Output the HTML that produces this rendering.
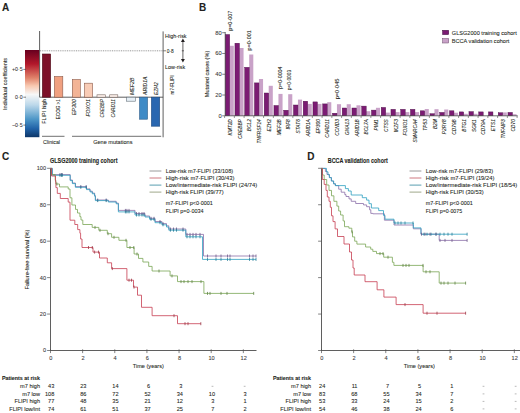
<!DOCTYPE html>
<html><head><meta charset="utf-8"><style>
html,body{margin:0;padding:0;background:#fff;width:520px;height:413px;overflow:hidden}
svg{display:block}
text{font-family:"Liberation Sans", sans-serif}
</style></head><body>
<svg width="520" height="413" viewBox="0 0 520 413">
<rect width="520" height="413" fill="#fff"/>
<text x="2" y="11.2" font-size="10" text-anchor="start" font-weight="bold" fill="#231f20" stroke="#231f20" stroke-width="0.1">A</text>
<defs><linearGradient id="rdbu" x1="0" y1="0" x2="0" y2="1">
<stop offset="0" stop-color="#67001f"/>
<stop offset="0.16" stop-color="#b2182b"/>
<stop offset="0.32" stop-color="#e0826a"/>
<stop offset="0.41" stop-color="#f8c8b0"/>
<stop offset="0.51" stop-color="#f7f7f7"/>
<stop offset="0.63" stop-color="#bcd8ea"/>
<stop offset="0.79" stop-color="#4f98c8"/>
<stop offset="0.9" stop-color="#2163a8"/>
<stop offset="1" stop-color="#0d3668"/>
</linearGradient></defs>
<rect x="25.00" y="50.00" width="14.40" height="87.20" fill="url(#rdbu)"/>
<line x1="23.3" y1="69.4" x2="26" y2="69.4" stroke="#4d4d4d" stroke-width="0.7"/>
<text x="22.6" y="71.30000000000001" font-size="5.2" text-anchor="end" fill="#3a3a3a" stroke="#3a3a3a" stroke-width="0.08">+0·5</text>
<line x1="23.3" y1="97.2" x2="26" y2="97.2" stroke="#4d4d4d" stroke-width="0.7"/>
<text x="22.6" y="99.10000000000001" font-size="5.2" text-anchor="end" fill="#3a3a3a" stroke="#3a3a3a" stroke-width="0.08">0·0</text>
<line x1="23.3" y1="125.1" x2="26" y2="125.1" stroke="#4d4d4d" stroke-width="0.7"/>
<text x="22.6" y="127.0" font-size="5.2" text-anchor="end" fill="#3a3a3a" stroke="#3a3a3a" stroke-width="0.08">−0·5</text>
<text x="6.9" y="84" font-size="5.6" text-anchor="middle" fill="#231f20" stroke="#231f20" stroke-width="0.08" transform="rotate(-90 6.9 84)" textLength="52" lengthAdjust="spacingAndGlyphs">Individual coefficients</text>
<line x1="39.6" y1="31" x2="39.6" y2="97.2" stroke="#4d4d4d" stroke-width="0.9"/>
<line x1="39.6" y1="97.2" x2="163.1" y2="97.2" stroke="#4d4d4d" stroke-width="0.9"/>
<line x1="163.1" y1="31.4" x2="163.1" y2="137.3" stroke="#4d4d4d" stroke-width="0.9"/>
<line x1="40" y1="50.8" x2="163" y2="50.8" stroke="#6d6d6d" stroke-width="0.7" stroke-dasharray="1 0.8"/>
<rect x="42.40" y="54.00" width="8.20" height="43.20" fill="#7d1028" stroke="#4a0814" stroke-width="0.6"/>
<rect x="54.40" y="76.50" width="8.40" height="20.70" fill="#f0a080" stroke="#8a5a4a" stroke-width="0.6"/>
<rect x="72.30" y="79.50" width="8.00" height="17.70" fill="#f3b496" stroke="#8a5a4a" stroke-width="0.6"/>
<rect x="84.50" y="83.20" width="8.10" height="14.00" fill="#f8ccb6" stroke="#8a5a4a" stroke-width="0.6"/>
<rect x="97.00" y="94.80" width="8.30" height="2.40" fill="#fbefe8" stroke="#7a6a64" stroke-width="0.6"/>
<rect x="109.70" y="94.80" width="8.10" height="2.40" fill="#fbefe8" stroke="#7a6a64" stroke-width="0.6"/>
<rect x="126.60" y="97.20" width="8.70" height="4.00" fill="#e6eff6" stroke="#64707a" stroke-width="0.6"/>
<rect x="139.60" y="97.20" width="7.90" height="22.00" fill="#3f8bc6" stroke="#2a5a88" stroke-width="0.6"/>
<rect x="151.40" y="97.20" width="8.30" height="29.00" fill="#2a67b0" stroke="#1c4a80" stroke-width="0.6"/>
<text x="46.3" y="99.2" font-size="5.6" text-anchor="end" fill="#231f20" stroke="#231f20" stroke-width="0.08" transform="rotate(-90 46.3 99.2)" textLength="24.5" lengthAdjust="spacingAndGlyphs">FLIPI high</text>
<text x="60.0" y="99.2" font-size="5.6" text-anchor="end" fill="#231f20" stroke="#231f20" stroke-width="0.08" transform="rotate(-90 60.0 99.2)" textLength="20" lengthAdjust="spacingAndGlyphs">ECOG &gt;1</text>
<text x="76.5" y="99.2" font-size="5.6" text-anchor="end" font-style="italic" fill="#231f20" stroke="#231f20" stroke-width="0.08" transform="rotate(-90 76.5 99.2)" textLength="16" lengthAdjust="spacingAndGlyphs">EP300</text>
<text x="89.7" y="99.2" font-size="5.6" text-anchor="end" font-style="italic" fill="#231f20" stroke="#231f20" stroke-width="0.08" transform="rotate(-90 89.7 99.2)" textLength="17.4" lengthAdjust="spacingAndGlyphs">FOXO1</text>
<text x="104.0" y="99.2" font-size="5.6" text-anchor="end" font-style="italic" fill="#231f20" stroke="#231f20" stroke-width="0.08" transform="rotate(-90 104.0 99.2)" textLength="18.3" lengthAdjust="spacingAndGlyphs">CREBBP</text>
<text x="115.5" y="99.2" font-size="5.6" text-anchor="end" font-style="italic" fill="#231f20" stroke="#231f20" stroke-width="0.08" transform="rotate(-90 115.5 99.2)" textLength="18.4" lengthAdjust="spacingAndGlyphs">CARD11</text>
<text x="134.0" y="95.0" font-size="5.6" text-anchor="start" font-style="italic" fill="#231f20" stroke="#231f20" stroke-width="0.08" transform="rotate(-90 134.0 95.0)" textLength="17.5" lengthAdjust="spacingAndGlyphs">MEF2B</text>
<text x="146.5" y="95.0" font-size="5.6" text-anchor="start" font-style="italic" fill="#231f20" stroke="#231f20" stroke-width="0.08" transform="rotate(-90 146.5 95.0)" textLength="18.5" lengthAdjust="spacingAndGlyphs">ARID1A</text>
<text x="158.1" y="95.0" font-size="5.6" text-anchor="start" font-style="italic" fill="#231f20" stroke="#231f20" stroke-width="0.08" transform="rotate(-90 158.1 95.0)" textLength="12.7" lengthAdjust="spacingAndGlyphs">EZH2</text>
<line x1="42" y1="136.3" x2="64.5" y2="136.3" stroke="#4d4d4d" stroke-width="0.8"/>
<line x1="72" y1="136.3" x2="161.2" y2="136.3" stroke="#4d4d4d" stroke-width="0.8"/>
<text x="43" y="144.2" font-size="5.8" text-anchor="start" fill="#231f20" stroke="#231f20" stroke-width="0.08" textLength="17" lengthAdjust="spacingAndGlyphs">Clinical</text>
<text x="93.2" y="144.2" font-size="5.8" text-anchor="start" fill="#231f20" stroke="#231f20" stroke-width="0.08" textLength="39.3" lengthAdjust="spacingAndGlyphs">Gene mutations</text>
<line x1="163.1" y1="50.8" x2="166" y2="50.8" stroke="#4d4d4d" stroke-width="0.7"/>
<text x="165.1" y="37.9" font-size="5.6" text-anchor="start" fill="#231f20" stroke="#231f20" stroke-width="0.08" textLength="21.5" lengthAdjust="spacingAndGlyphs">High-risk</text>
<text x="166.8" y="52.9" font-size="5.6" text-anchor="start" fill="#231f20" stroke="#231f20" stroke-width="0.08" textLength="7" lengthAdjust="spacingAndGlyphs">0·8</text>
<text x="165.1" y="68.8" font-size="5.6" text-anchor="start" fill="#231f20" stroke="#231f20" stroke-width="0.08" textLength="20" lengthAdjust="spacingAndGlyphs">Low-risk</text>
<text x="173.6" y="75.4" font-size="5.6" text-anchor="end" fill="#231f20" stroke="#231f20" stroke-width="0.08" transform="rotate(-90 173.6 75.4)" textLength="19" lengthAdjust="spacingAndGlyphs">m7-FLIPI</text>
<line x1="182.9" y1="40.5" x2="182.9" y2="60.5" stroke="#231f20" stroke-width="0.7"/>
<path d="M180.9 42 L182.9 38.6 L184.9 42 Z" fill="#231f20"/>
<path d="M180.9 59 L182.9 62.4 L184.9 59 Z" fill="#231f20"/>
<line x1="181.8" y1="50.8" x2="184" y2="50.8" stroke="#231f20" stroke-width="0.6"/>
<text x="199" y="10.6" font-size="10" text-anchor="start" font-weight="bold" fill="#231f20" stroke="#231f20" stroke-width="0.1">B</text>
<line x1="222.2" y1="115.8" x2="225.2" y2="115.8" stroke="#4d4d4d" stroke-width="0.7"/>
<text x="221.8" y="117.7" font-size="5.8" text-anchor="end" fill="#3a3a3a" stroke="#3a3a3a" stroke-width="0.08">0</text>
<line x1="222.2" y1="95.025" x2="225.2" y2="95.025" stroke="#4d4d4d" stroke-width="0.7"/>
<text x="221.8" y="96.92500000000001" font-size="5.8" text-anchor="end" fill="#3a3a3a" stroke="#3a3a3a" stroke-width="0.08">20</text>
<line x1="222.2" y1="74.25" x2="225.2" y2="74.25" stroke="#4d4d4d" stroke-width="0.7"/>
<text x="221.8" y="76.15" font-size="5.8" text-anchor="end" fill="#3a3a3a" stroke="#3a3a3a" stroke-width="0.08">40</text>
<line x1="222.2" y1="53.47500000000001" x2="225.2" y2="53.47500000000001" stroke="#4d4d4d" stroke-width="0.7"/>
<text x="221.8" y="55.37500000000001" font-size="5.8" text-anchor="end" fill="#3a3a3a" stroke="#3a3a3a" stroke-width="0.08">60</text>
<line x1="222.2" y1="32.7" x2="225.2" y2="32.7" stroke="#4d4d4d" stroke-width="0.7"/>
<text x="221.8" y="34.6" font-size="5.8" text-anchor="end" fill="#3a3a3a" stroke="#3a3a3a" stroke-width="0.08">80</text>
<text x="208.8" y="74" font-size="5.6" text-anchor="middle" fill="#231f20" stroke="#231f20" stroke-width="0.08" transform="rotate(-90 208.8 74)" textLength="46.5" lengthAdjust="spacingAndGlyphs">Mutated cases (%)</text>
<rect x="229.70" y="45.80" width="4.10" height="70.00" fill="#c9a2c8"/>
<rect x="225.20" y="34.50" width="4.50" height="81.30" fill="#7b1b73" stroke="#4a0f45" stroke-width="0.4"/>
<rect x="239.45" y="48.00" width="4.10" height="67.80" fill="#c9a2c8"/>
<rect x="234.95" y="43.20" width="4.50" height="72.60" fill="#7b1b73" stroke="#4a0f45" stroke-width="0.4"/>
<rect x="249.20" y="54.50" width="4.10" height="61.30" fill="#c9a2c8"/>
<rect x="244.70" y="67.30" width="4.50" height="48.50" fill="#7b1b73" stroke="#4a0f45" stroke-width="0.4"/>
<rect x="258.95" y="79.00" width="4.10" height="36.80" fill="#c9a2c8"/>
<rect x="254.45" y="82.90" width="4.50" height="32.90" fill="#7b1b73" stroke="#4a0f45" stroke-width="0.4"/>
<rect x="268.70" y="85.80" width="4.10" height="30.00" fill="#c9a2c8"/>
<rect x="264.20" y="93.00" width="4.50" height="22.80" fill="#7b1b73" stroke="#4a0f45" stroke-width="0.4"/>
<rect x="278.45" y="93.90" width="4.10" height="21.90" fill="#c9a2c8"/>
<rect x="273.95" y="105.50" width="4.50" height="10.30" fill="#7b1b73" stroke="#4a0f45" stroke-width="0.4"/>
<rect x="288.20" y="94.20" width="4.10" height="21.60" fill="#c9a2c8"/>
<rect x="283.70" y="110.20" width="4.50" height="5.60" fill="#7b1b73" stroke="#4a0f45" stroke-width="0.4"/>
<rect x="297.95" y="99.60" width="4.10" height="16.20" fill="#c9a2c8"/>
<rect x="293.45" y="105.00" width="4.50" height="10.80" fill="#7b1b73" stroke="#4a0f45" stroke-width="0.4"/>
<rect x="307.70" y="103.90" width="4.10" height="11.90" fill="#c9a2c8"/>
<rect x="303.20" y="101.20" width="4.50" height="14.60" fill="#7b1b73" stroke="#4a0f45" stroke-width="0.4"/>
<rect x="317.45" y="103.90" width="4.10" height="11.90" fill="#c9a2c8"/>
<rect x="312.95" y="101.90" width="4.50" height="13.90" fill="#7b1b73" stroke="#4a0f45" stroke-width="0.4"/>
<rect x="327.20" y="102.20" width="4.10" height="13.60" fill="#c9a2c8"/>
<rect x="322.70" y="103.90" width="4.50" height="11.90" fill="#7b1b73" stroke="#4a0f45" stroke-width="0.4"/>
<rect x="336.95" y="104.20" width="4.10" height="11.60" fill="#c9a2c8"/>
<rect x="332.45" y="113.20" width="4.50" height="2.60" fill="#7b1b73" stroke="#4a0f45" stroke-width="0.4"/>
<rect x="346.70" y="104.20" width="4.10" height="11.60" fill="#c9a2c8"/>
<rect x="342.20" y="108.00" width="4.50" height="7.80" fill="#7b1b73" stroke="#4a0f45" stroke-width="0.4"/>
<rect x="356.45" y="105.30" width="4.10" height="10.50" fill="#c9a2c8"/>
<rect x="351.95" y="108.00" width="4.50" height="7.80" fill="#7b1b73" stroke="#4a0f45" stroke-width="0.4"/>
<rect x="366.20" y="111.20" width="4.10" height="4.60" fill="#c9a2c8"/>
<rect x="361.70" y="106.10" width="4.50" height="9.70" fill="#7b1b73" stroke="#4a0f45" stroke-width="0.4"/>
<rect x="375.95" y="107.80" width="4.10" height="8.00" fill="#c9a2c8"/>
<rect x="371.45" y="110.10" width="4.50" height="5.70" fill="#7b1b73" stroke="#4a0f45" stroke-width="0.4"/>
<rect x="385.70" y="112.60" width="4.10" height="3.20" fill="#c9a2c8"/>
<rect x="381.20" y="107.40" width="4.50" height="8.40" fill="#7b1b73" stroke="#4a0f45" stroke-width="0.4"/>
<rect x="395.45" y="112.10" width="4.10" height="3.70" fill="#c9a2c8"/>
<rect x="390.95" y="109.30" width="4.50" height="6.50" fill="#7b1b73" stroke="#4a0f45" stroke-width="0.4"/>
<rect x="405.20" y="112.10" width="4.10" height="3.70" fill="#c9a2c8"/>
<rect x="400.70" y="109.30" width="4.50" height="6.50" fill="#7b1b73" stroke="#4a0f45" stroke-width="0.4"/>
<rect x="414.95" y="112.10" width="4.10" height="3.70" fill="#c9a2c8"/>
<rect x="410.45" y="109.30" width="4.50" height="6.50" fill="#7b1b73" stroke="#4a0f45" stroke-width="0.4"/>
<rect x="424.70" y="109.00" width="4.10" height="6.80" fill="#c9a2c8"/>
<rect x="420.20" y="110.80" width="4.50" height="5.00" fill="#7b1b73" stroke="#4a0f45" stroke-width="0.4"/>
<rect x="434.45" y="109.20" width="4.10" height="6.60" fill="#c9a2c8"/>
<rect x="429.95" y="113.70" width="4.50" height="2.10" fill="#7b1b73" stroke="#4a0f45" stroke-width="0.4"/>
<rect x="444.20" y="109.50" width="4.10" height="6.30" fill="#c9a2c8"/>
<rect x="439.70" y="112.40" width="4.50" height="3.40" fill="#7b1b73" stroke="#4a0f45" stroke-width="0.4"/>
<rect x="453.95" y="112.70" width="4.10" height="3.10" fill="#c9a2c8"/>
<rect x="449.45" y="110.80" width="4.50" height="5.00" fill="#7b1b73" stroke="#4a0f45" stroke-width="0.4"/>
<rect x="463.70" y="113.80" width="4.10" height="2.00" fill="#c9a2c8"/>
<rect x="459.20" y="111.90" width="4.50" height="3.90" fill="#7b1b73" stroke="#4a0f45" stroke-width="0.4"/>
<rect x="473.45" y="113.80" width="4.10" height="2.00" fill="#c9a2c8"/>
<rect x="468.95" y="111.60" width="4.50" height="4.20" fill="#7b1b73" stroke="#4a0f45" stroke-width="0.4"/>
<rect x="483.20" y="115.80" width="4.10" height="0.00" fill="#c9a2c8"/>
<rect x="478.70" y="111.90" width="4.50" height="3.90" fill="#7b1b73" stroke="#4a0f45" stroke-width="0.4"/>
<rect x="492.95" y="115.80" width="4.10" height="0.00" fill="#c9a2c8"/>
<rect x="488.45" y="111.90" width="4.50" height="3.90" fill="#7b1b73" stroke="#4a0f45" stroke-width="0.4"/>
<rect x="502.70" y="112.40" width="4.10" height="3.40" fill="#c9a2c8"/>
<rect x="498.20" y="112.70" width="4.50" height="3.10" fill="#7b1b73" stroke="#4a0f45" stroke-width="0.4"/>
<rect x="512.45" y="114.20" width="4.10" height="1.60" fill="#c9a2c8"/>
<rect x="507.95" y="112.40" width="4.50" height="3.40" fill="#7b1b73" stroke="#4a0f45" stroke-width="0.4"/>
<line x1="225.2" y1="32" x2="225.2" y2="115.8" stroke="#4d4d4d" stroke-width="0.8"/>
<line x1="225.2" y1="115.8" x2="517.7" y2="115.8" stroke="#4d4d4d" stroke-width="0.8"/>
<line x1="224.6" y1="115.8" x2="224.6" y2="118.0" stroke="#4d4d4d" stroke-width="0.6"/>
<line x1="234.35" y1="115.8" x2="234.35" y2="118.0" stroke="#4d4d4d" stroke-width="0.6"/>
<line x1="244.1" y1="115.8" x2="244.1" y2="118.0" stroke="#4d4d4d" stroke-width="0.6"/>
<line x1="253.85" y1="115.8" x2="253.85" y2="118.0" stroke="#4d4d4d" stroke-width="0.6"/>
<line x1="263.6" y1="115.8" x2="263.6" y2="118.0" stroke="#4d4d4d" stroke-width="0.6"/>
<line x1="273.35" y1="115.8" x2="273.35" y2="118.0" stroke="#4d4d4d" stroke-width="0.6"/>
<line x1="283.1" y1="115.8" x2="283.1" y2="118.0" stroke="#4d4d4d" stroke-width="0.6"/>
<line x1="292.85" y1="115.8" x2="292.85" y2="118.0" stroke="#4d4d4d" stroke-width="0.6"/>
<line x1="302.6" y1="115.8" x2="302.6" y2="118.0" stroke="#4d4d4d" stroke-width="0.6"/>
<line x1="312.35" y1="115.8" x2="312.35" y2="118.0" stroke="#4d4d4d" stroke-width="0.6"/>
<line x1="322.1" y1="115.8" x2="322.1" y2="118.0" stroke="#4d4d4d" stroke-width="0.6"/>
<line x1="331.85" y1="115.8" x2="331.85" y2="118.0" stroke="#4d4d4d" stroke-width="0.6"/>
<line x1="341.6" y1="115.8" x2="341.6" y2="118.0" stroke="#4d4d4d" stroke-width="0.6"/>
<line x1="351.35" y1="115.8" x2="351.35" y2="118.0" stroke="#4d4d4d" stroke-width="0.6"/>
<line x1="361.1" y1="115.8" x2="361.1" y2="118.0" stroke="#4d4d4d" stroke-width="0.6"/>
<line x1="370.85" y1="115.8" x2="370.85" y2="118.0" stroke="#4d4d4d" stroke-width="0.6"/>
<line x1="380.6" y1="115.8" x2="380.6" y2="118.0" stroke="#4d4d4d" stroke-width="0.6"/>
<line x1="390.35" y1="115.8" x2="390.35" y2="118.0" stroke="#4d4d4d" stroke-width="0.6"/>
<line x1="400.1" y1="115.8" x2="400.1" y2="118.0" stroke="#4d4d4d" stroke-width="0.6"/>
<line x1="409.85" y1="115.8" x2="409.85" y2="118.0" stroke="#4d4d4d" stroke-width="0.6"/>
<line x1="419.6" y1="115.8" x2="419.6" y2="118.0" stroke="#4d4d4d" stroke-width="0.6"/>
<line x1="429.35" y1="115.8" x2="429.35" y2="118.0" stroke="#4d4d4d" stroke-width="0.6"/>
<line x1="439.1" y1="115.8" x2="439.1" y2="118.0" stroke="#4d4d4d" stroke-width="0.6"/>
<line x1="448.85" y1="115.8" x2="448.85" y2="118.0" stroke="#4d4d4d" stroke-width="0.6"/>
<line x1="458.6" y1="115.8" x2="458.6" y2="118.0" stroke="#4d4d4d" stroke-width="0.6"/>
<line x1="468.35" y1="115.8" x2="468.35" y2="118.0" stroke="#4d4d4d" stroke-width="0.6"/>
<line x1="478.1" y1="115.8" x2="478.1" y2="118.0" stroke="#4d4d4d" stroke-width="0.6"/>
<line x1="487.85" y1="115.8" x2="487.85" y2="118.0" stroke="#4d4d4d" stroke-width="0.6"/>
<line x1="497.6" y1="115.8" x2="497.6" y2="118.0" stroke="#4d4d4d" stroke-width="0.6"/>
<line x1="507.35" y1="115.8" x2="507.35" y2="118.0" stroke="#4d4d4d" stroke-width="0.6"/>
<line x1="517.1" y1="115.8" x2="517.1" y2="118.0" stroke="#4d4d4d" stroke-width="0.6"/>
<text x="232.0" y="119.2" font-size="4.8" text-anchor="end" font-style="italic" fill="#231f20" stroke="#231f20" stroke-width="0.08" transform="rotate(-90 232.0 119.2)">KMT2D</text>
<text x="241.75" y="119.2" font-size="4.8" text-anchor="end" font-style="italic" fill="#231f20" stroke="#231f20" stroke-width="0.08" transform="rotate(-90 241.75 119.2)">CREBBP</text>
<text x="251.5" y="119.2" font-size="4.8" text-anchor="end" font-style="italic" fill="#231f20" stroke="#231f20" stroke-width="0.08" transform="rotate(-90 251.5 119.2)">BCL2</text>
<text x="261.25" y="119.2" font-size="4.8" text-anchor="end" font-style="italic" fill="#231f20" stroke="#231f20" stroke-width="0.08" transform="rotate(-90 261.25 119.2)">TNFRSF14</text>
<text x="271.0" y="119.2" font-size="4.8" text-anchor="end" font-style="italic" fill="#231f20" stroke="#231f20" stroke-width="0.08" transform="rotate(-90 271.0 119.2)">EZH2</text>
<text x="280.75" y="119.2" font-size="4.8" text-anchor="end" font-style="italic" fill="#231f20" stroke="#231f20" stroke-width="0.08" transform="rotate(-90 280.75 119.2)">MEF2B</text>
<text x="290.5" y="119.2" font-size="4.8" text-anchor="end" font-style="italic" fill="#231f20" stroke="#231f20" stroke-width="0.08" transform="rotate(-90 290.5 119.2)">IRF8</text>
<text x="300.25" y="119.2" font-size="4.8" text-anchor="end" font-style="italic" fill="#231f20" stroke="#231f20" stroke-width="0.08" transform="rotate(-90 300.25 119.2)">STAT6</text>
<text x="310.0" y="119.2" font-size="4.8" text-anchor="end" font-style="italic" fill="#231f20" stroke="#231f20" stroke-width="0.08" transform="rotate(-90 310.0 119.2)">ARID1A</text>
<text x="319.75" y="119.2" font-size="4.8" text-anchor="end" font-style="italic" fill="#231f20" stroke="#231f20" stroke-width="0.08" transform="rotate(-90 319.75 119.2)">EP300</text>
<text x="329.5" y="119.2" font-size="4.8" text-anchor="end" font-style="italic" fill="#231f20" stroke="#231f20" stroke-width="0.08" transform="rotate(-90 329.5 119.2)">CARD11</text>
<text x="339.25" y="119.2" font-size="4.8" text-anchor="end" font-style="italic" fill="#231f20" stroke="#231f20" stroke-width="0.08" transform="rotate(-90 339.25 119.2)">CCND3</text>
<text x="349.0" y="119.2" font-size="4.8" text-anchor="end" font-style="italic" fill="#231f20" stroke="#231f20" stroke-width="0.08" transform="rotate(-90 349.0 119.2)">GNA13</text>
<text x="358.75" y="119.2" font-size="4.8" text-anchor="end" font-style="italic" fill="#231f20" stroke="#231f20" stroke-width="0.08" transform="rotate(-90 358.75 119.2)">ARID1B</text>
<text x="368.5" y="119.2" font-size="4.8" text-anchor="end" font-style="italic" fill="#231f20" stroke="#231f20" stroke-width="0.08" transform="rotate(-90 368.5 119.2)">BCL7A</text>
<text x="378.25" y="119.2" font-size="4.8" text-anchor="end" font-style="italic" fill="#231f20" stroke="#231f20" stroke-width="0.08" transform="rotate(-90 378.25 119.2)">PIM1</text>
<text x="388.0" y="119.2" font-size="4.8" text-anchor="end" font-style="italic" fill="#231f20" stroke="#231f20" stroke-width="0.08" transform="rotate(-90 388.0 119.2)">CTSS</text>
<text x="397.75" y="119.2" font-size="4.8" text-anchor="end" font-style="italic" fill="#231f20" stroke="#231f20" stroke-width="0.08" transform="rotate(-90 397.75 119.2)">IKZF3</text>
<text x="407.5" y="119.2" font-size="4.8" text-anchor="end" font-style="italic" fill="#231f20" stroke="#231f20" stroke-width="0.08" transform="rotate(-90 407.5 119.2)">FOXO1</text>
<text x="417.25" y="119.2" font-size="4.8" text-anchor="end" font-style="italic" fill="#231f20" stroke="#231f20" stroke-width="0.08" transform="rotate(-90 417.25 119.2)">SMARCA4</text>
<text x="427.0" y="119.2" font-size="4.8" text-anchor="end" font-style="italic" fill="#231f20" stroke="#231f20" stroke-width="0.08" transform="rotate(-90 427.0 119.2)">TP53</text>
<text x="436.75" y="119.2" font-size="4.8" text-anchor="end" font-style="italic" fill="#231f20" stroke="#231f20" stroke-width="0.08" transform="rotate(-90 436.75 119.2)">B2M</text>
<text x="446.5" y="119.2" font-size="4.8" text-anchor="end" font-style="italic" fill="#231f20" stroke="#231f20" stroke-width="0.08" transform="rotate(-90 446.5 119.2)">P2RY8</text>
<text x="456.25" y="119.2" font-size="4.8" text-anchor="end" font-style="italic" fill="#231f20" stroke="#231f20" stroke-width="0.08" transform="rotate(-90 456.25 119.2)">CD79B</text>
<text x="466.0" y="119.2" font-size="4.8" text-anchor="end" font-style="italic" fill="#231f20" stroke="#231f20" stroke-width="0.08" transform="rotate(-90 466.0 119.2)">BTG1</text>
<text x="475.75" y="119.2" font-size="4.8" text-anchor="end" font-style="italic" fill="#231f20" stroke="#231f20" stroke-width="0.08" transform="rotate(-90 475.75 119.2)">SGK1</text>
<text x="485.5" y="119.2" font-size="4.8" text-anchor="end" font-style="italic" fill="#231f20" stroke="#231f20" stroke-width="0.08" transform="rotate(-90 485.5 119.2)">CD79A</text>
<text x="495.25" y="119.2" font-size="4.8" text-anchor="end" font-style="italic" fill="#231f20" stroke="#231f20" stroke-width="0.08" transform="rotate(-90 495.25 119.2)">ETS1</text>
<text x="505.0" y="119.2" font-size="4.8" text-anchor="end" font-style="italic" fill="#231f20" stroke="#231f20" stroke-width="0.08" transform="rotate(-90 505.0 119.2)">TNFAIP3</text>
<text x="514.75" y="119.2" font-size="4.8" text-anchor="end" font-style="italic" fill="#231f20" stroke="#231f20" stroke-width="0.08" transform="rotate(-90 514.75 119.2)">CD70</text>
<text x="231.7" y="30.8" font-size="5.4" text-anchor="start" fill="#231f20" stroke="#231f20" stroke-width="0.08" transform="rotate(-90 231.7 30.8)" textLength="20" lengthAdjust="spacingAndGlyphs">p=0·007</text>
<text x="251.2" y="50.4" font-size="5.4" text-anchor="start" fill="#231f20" stroke="#231f20" stroke-width="0.08" transform="rotate(-90 251.2 50.4)" textLength="20.2" lengthAdjust="spacingAndGlyphs">p=0·001</text>
<text x="281.65" y="89" font-size="5.4" text-anchor="start" fill="#231f20" stroke="#231f20" stroke-width="0.08" transform="rotate(-90 281.65 89)" textLength="22.5" lengthAdjust="spacingAndGlyphs">p=0·0004</text>
<text x="291.2" y="90.3" font-size="5.4" text-anchor="start" fill="#231f20" stroke="#231f20" stroke-width="0.08" transform="rotate(-90 291.2 90.3)" textLength="20.4" lengthAdjust="spacingAndGlyphs">p=0·0003</text>
<text x="339.25" y="99.3" font-size="5.4" text-anchor="start" fill="#231f20" stroke="#231f20" stroke-width="0.08" transform="rotate(-90 339.25 99.3)" textLength="20.8" lengthAdjust="spacingAndGlyphs">p=0·045</text>
<rect x="442.60" y="30.30" width="6.10" height="4.30" fill="#7b1b73" stroke="#3a0a3a" stroke-width="0.5"/>
<rect x="442.60" y="38.50" width="6.10" height="4.50" fill="#c9a2c8" stroke="#6a4a6a" stroke-width="0.5"/>
<text x="451.8" y="34.7" font-size="6" text-anchor="start" fill="#231f20" stroke="#231f20" stroke-width="0.08" textLength="65" lengthAdjust="spacingAndGlyphs">GLSG2000 training cohort</text>
<text x="451.8" y="43.0" font-size="6" text-anchor="start" fill="#231f20" stroke="#231f20" stroke-width="0.08" textLength="57.6" lengthAdjust="spacingAndGlyphs">BCCA validation cohort</text>
<text x="2" y="160.2" font-size="10" text-anchor="start" font-weight="bold" fill="#231f20" stroke="#231f20" stroke-width="0.1">C</text>
<text x="50" y="162.9" font-size="6.3" text-anchor="start" font-weight="bold" fill="#231f20" stroke="#231f20" stroke-width="0.1" textLength="67.5" lengthAdjust="spacingAndGlyphs">GLSG2000 training cohort</text>
<line x1="47.1" y1="350.5" x2="50.5" y2="350.5" stroke="#4d4d4d" stroke-width="0.7"/>
<text x="46.1" y="352.4" font-size="5.6" text-anchor="end" fill="#3a3a3a" stroke="#3a3a3a" stroke-width="0.08">0</text>
<line x1="47.1" y1="314.06" x2="50.5" y2="314.06" stroke="#4d4d4d" stroke-width="0.7"/>
<text x="46.1" y="315.96" font-size="5.6" text-anchor="end" fill="#3a3a3a" stroke="#3a3a3a" stroke-width="0.08">20</text>
<line x1="47.1" y1="277.62" x2="50.5" y2="277.62" stroke="#4d4d4d" stroke-width="0.7"/>
<text x="46.1" y="279.52" font-size="5.6" text-anchor="end" fill="#3a3a3a" stroke="#3a3a3a" stroke-width="0.08">40</text>
<line x1="47.1" y1="241.18" x2="50.5" y2="241.18" stroke="#4d4d4d" stroke-width="0.7"/>
<text x="46.1" y="243.08" font-size="5.6" text-anchor="end" fill="#3a3a3a" stroke="#3a3a3a" stroke-width="0.08">60</text>
<line x1="47.1" y1="204.74" x2="50.5" y2="204.74" stroke="#4d4d4d" stroke-width="0.7"/>
<text x="46.1" y="206.64000000000001" font-size="5.6" text-anchor="end" fill="#3a3a3a" stroke="#3a3a3a" stroke-width="0.08">80</text>
<line x1="47.1" y1="168.3" x2="50.5" y2="168.3" stroke="#4d4d4d" stroke-width="0.7"/>
<text x="46.1" y="170.20000000000002" font-size="5.6" text-anchor="end" fill="#3a3a3a" stroke="#3a3a3a" stroke-width="0.08">100</text>
<line x1="50.5" y1="168" x2="50.5" y2="350.9" stroke="#4d4d4d" stroke-width="0.9"/>
<line x1="50.5" y1="350.5" x2="256.5" y2="350.5" stroke="#4d4d4d" stroke-width="0.9"/>
<line x1="50.5" y1="349.3" x2="50.5" y2="353.1" stroke="#4d4d4d" stroke-width="0.7"/>
<text x="50.9" y="359.8" font-size="5.6" text-anchor="middle" fill="#3a3a3a" stroke="#3a3a3a" stroke-width="0.08">0</text>
<line x1="82.64" y1="349.3" x2="82.64" y2="353.1" stroke="#4d4d4d" stroke-width="0.7"/>
<text x="83.04" y="359.8" font-size="5.6" text-anchor="middle" fill="#3a3a3a" stroke="#3a3a3a" stroke-width="0.08">2</text>
<line x1="114.78" y1="349.3" x2="114.78" y2="353.1" stroke="#4d4d4d" stroke-width="0.7"/>
<text x="115.18" y="359.8" font-size="5.6" text-anchor="middle" fill="#3a3a3a" stroke="#3a3a3a" stroke-width="0.08">4</text>
<line x1="146.92000000000002" y1="349.3" x2="146.92000000000002" y2="353.1" stroke="#4d4d4d" stroke-width="0.7"/>
<text x="147.32000000000002" y="359.8" font-size="5.6" text-anchor="middle" fill="#3a3a3a" stroke="#3a3a3a" stroke-width="0.08">6</text>
<line x1="179.06" y1="349.3" x2="179.06" y2="353.1" stroke="#4d4d4d" stroke-width="0.7"/>
<text x="179.46" y="359.8" font-size="5.6" text-anchor="middle" fill="#3a3a3a" stroke="#3a3a3a" stroke-width="0.08">8</text>
<line x1="211.2" y1="349.3" x2="211.2" y2="353.1" stroke="#4d4d4d" stroke-width="0.7"/>
<text x="211.6" y="359.8" font-size="5.6" text-anchor="middle" fill="#3a3a3a" stroke="#3a3a3a" stroke-width="0.08">10</text>
<line x1="243.34" y1="349.3" x2="243.34" y2="353.1" stroke="#4d4d4d" stroke-width="0.7"/>
<text x="243.74" y="359.8" font-size="5.6" text-anchor="middle" fill="#3a3a3a" stroke="#3a3a3a" stroke-width="0.08">12</text>
<text x="148.3" y="368.4" font-size="5.6" text-anchor="middle" fill="#231f20" stroke="#231f20" stroke-width="0.08" textLength="31.2" lengthAdjust="spacingAndGlyphs">Time (years)</text>
<text x="28.5" y="259.5" font-size="5.6" text-anchor="middle" fill="#231f20" stroke="#231f20" stroke-width="0.08" transform="rotate(-90 28.5 259.5)" textLength="60" lengthAdjust="spacingAndGlyphs">Failure-free survival (%)</text>
<line x1="149.5" y1="171.0" x2="161.4" y2="171.0" stroke="#9a9a9a" stroke-width="1.0"/>
<text x="165.8" y="173.0" font-size="5.6" text-anchor="start" fill="#231f20" stroke="#231f20" stroke-width="0.08" textLength="67.3" lengthAdjust="spacingAndGlyphs">Low-risk m7-FLIPI (33/108)</text>
<line x1="149.5" y1="178.0" x2="161.4" y2="178.0" stroke="#cf7880" stroke-width="1.0"/>
<text x="165.8" y="180.0" font-size="5.6" text-anchor="start" fill="#231f20" stroke="#231f20" stroke-width="0.08" textLength="68.6" lengthAdjust="spacingAndGlyphs">High-risk m7-FLIPI (30/43)</text>
<line x1="149.5" y1="185.1" x2="161.4" y2="185.1" stroke="#5a9eb0" stroke-width="1.0"/>
<text x="165.8" y="187.1" font-size="5.6" text-anchor="start" fill="#231f20" stroke="#231f20" stroke-width="0.08" textLength="91.5" lengthAdjust="spacingAndGlyphs">Low/intermediate-risk FLIPI (24/74)</text>
<line x1="149.5" y1="192.1" x2="161.4" y2="192.1" stroke="#9fa88a" stroke-width="1.0"/>
<text x="165.8" y="194.1" font-size="5.6" text-anchor="start" fill="#231f20" stroke="#231f20" stroke-width="0.08" textLength="57.9" lengthAdjust="spacingAndGlyphs">High-risk FLIPI (39/77)</text>
<text x="165.8" y="205.0" font-size="5.6" text-anchor="start" fill="#231f20" stroke="#231f20" stroke-width="0.08" textLength="47.1" lengthAdjust="spacingAndGlyphs">m7-FLIPI p&lt;0·0001</text>
<text x="165.8" y="212.6" font-size="5.6" text-anchor="start" fill="#231f20" stroke="#231f20" stroke-width="0.08" textLength="37.7" lengthAdjust="spacingAndGlyphs">FLIPI p=0·0034</text>
<text x="2.0" y="379.6" font-size="5.6" text-anchor="start" font-weight="bold" fill="#231f20" stroke="#231f20" stroke-width="0.1" textLength="38" lengthAdjust="spacingAndGlyphs">Patients at risk</text>
<text x="40.0" y="388.0" font-size="5.6" text-anchor="end" fill="#231f20" stroke="#231f20" stroke-width="0.08">m7 high</text>
<text x="54.3" y="388.0" font-size="5.6" text-anchor="end" fill="#231f20" stroke="#231f20" stroke-width="0.08">43</text>
<text x="86.44" y="388.0" font-size="5.6" text-anchor="end" fill="#231f20" stroke="#231f20" stroke-width="0.08">23</text>
<text x="118.58" y="388.0" font-size="5.6" text-anchor="end" fill="#231f20" stroke="#231f20" stroke-width="0.08">14</text>
<text x="148.62" y="388.0" font-size="5.6" text-anchor="middle" fill="#231f20" stroke="#231f20" stroke-width="0.08">6</text>
<text x="180.76" y="388.0" font-size="5.6" text-anchor="middle" fill="#231f20" stroke="#231f20" stroke-width="0.08">3</text>
<line x1="211.6" y1="386.3" x2="213.39999999999998" y2="386.3" stroke="#8a8a8a" stroke-width="0.6"/>
<line x1="243.74" y1="386.3" x2="245.54" y2="386.3" stroke="#8a8a8a" stroke-width="0.6"/>
<text x="40.0" y="395.6" font-size="5.6" text-anchor="end" fill="#231f20" stroke="#231f20" stroke-width="0.08">m7 low</text>
<text x="54.3" y="395.6" font-size="5.6" text-anchor="end" fill="#231f20" stroke="#231f20" stroke-width="0.08">108</text>
<text x="86.44" y="395.6" font-size="5.6" text-anchor="end" fill="#231f20" stroke="#231f20" stroke-width="0.08">86</text>
<text x="118.58" y="395.6" font-size="5.6" text-anchor="end" fill="#231f20" stroke="#231f20" stroke-width="0.08">72</text>
<text x="150.72000000000003" y="395.6" font-size="5.6" text-anchor="end" fill="#231f20" stroke="#231f20" stroke-width="0.08">52</text>
<text x="182.86" y="395.6" font-size="5.6" text-anchor="end" fill="#231f20" stroke="#231f20" stroke-width="0.08">34</text>
<text x="215.0" y="395.6" font-size="5.6" text-anchor="end" fill="#231f20" stroke="#231f20" stroke-width="0.08">10</text>
<text x="245.04" y="395.6" font-size="5.6" text-anchor="middle" fill="#231f20" stroke="#231f20" stroke-width="0.08">3</text>
<text x="40.0" y="403.1" font-size="5.6" text-anchor="end" fill="#231f20" stroke="#231f20" stroke-width="0.08">FLIPI high</text>
<text x="54.3" y="403.1" font-size="5.6" text-anchor="end" fill="#231f20" stroke="#231f20" stroke-width="0.08">77</text>
<text x="86.44" y="403.1" font-size="5.6" text-anchor="end" fill="#231f20" stroke="#231f20" stroke-width="0.08">48</text>
<text x="118.58" y="403.1" font-size="5.6" text-anchor="end" fill="#231f20" stroke="#231f20" stroke-width="0.08">35</text>
<text x="150.72000000000003" y="403.1" font-size="5.6" text-anchor="end" fill="#231f20" stroke="#231f20" stroke-width="0.08">21</text>
<text x="182.86" y="403.1" font-size="5.6" text-anchor="end" fill="#231f20" stroke="#231f20" stroke-width="0.08">12</text>
<text x="212.89999999999998" y="403.1" font-size="5.6" text-anchor="middle" fill="#231f20" stroke="#231f20" stroke-width="0.08">3</text>
<text x="245.04" y="403.1" font-size="5.6" text-anchor="middle" fill="#231f20" stroke="#231f20" stroke-width="0.08">1</text>
<text x="40.0" y="410.6" font-size="5.6" text-anchor="end" fill="#231f20" stroke="#231f20" stroke-width="0.08">FLIPI low/int</text>
<text x="54.3" y="410.6" font-size="5.6" text-anchor="end" fill="#231f20" stroke="#231f20" stroke-width="0.08">74</text>
<text x="86.44" y="410.6" font-size="5.6" text-anchor="end" fill="#231f20" stroke="#231f20" stroke-width="0.08">61</text>
<text x="118.58" y="410.6" font-size="5.6" text-anchor="end" fill="#231f20" stroke="#231f20" stroke-width="0.08">51</text>
<text x="150.72000000000003" y="410.6" font-size="5.6" text-anchor="end" fill="#231f20" stroke="#231f20" stroke-width="0.08">37</text>
<text x="182.86" y="410.6" font-size="5.6" text-anchor="end" fill="#231f20" stroke="#231f20" stroke-width="0.08">25</text>
<text x="212.89999999999998" y="410.6" font-size="5.6" text-anchor="middle" fill="#231f20" stroke="#231f20" stroke-width="0.08">7</text>
<text x="245.04" y="410.6" font-size="5.6" text-anchor="middle" fill="#231f20" stroke="#231f20" stroke-width="0.08">2</text>
<path d="M50.5 168.4 H52.3 V174.6 H70.2 V180 H72.4 V183 H75.4 V186.6 H86.5 V188.9 H90 V191.2 H92.3 V193.1 H94.6 V195.6 H95.4 V200 H108.3 V201.3 H116.2 V203.1 H118.4 V210.4 H135 V213.5 H145 V216 H149.6 V218.3 H155 V221.5 H161.9 V223.6 H166.5 V225.8 H168.8 V229 H185.8 V234.4 H203.5 V256 H256" fill="none" stroke="#8a6ea8" stroke-width="0.8"/>
<path d="M50.5 168.4 H52.3 V175.3 H70.2 V180.6 H72.4 V183.6 H75.4 V187.3 H86.5 V189.6 H90 V191.9 H92.3 V193.8 H94.6 V196.2 H95.4 V200.6 H108.3 V202 H116.2 V203.8 H118.4 V211.9 H135 V215 H145 V217 H149.6 V219.3 H155 V222.7 H161.9 V224.8 H166.5 V227 H168.8 V230.2 H185.8 V236.8 H202.5 V259.4 H256" fill="none" stroke="#2d9fc0" stroke-width="0.8"/>
<path d="M50.5 168.4 H51.5 V174.5 H55.2 V180.3 H55.9 V184 H59.5 V186.9 H68.2 V189 H70 V197.8 H71.9 V205 H75.5 V209.4 H77.5 V213 H79.9 V216.7 H81 V220 H82.8 V224.5 H92.2 V227.4 H98.8 V230.3 H107.3 V233.7 H111.6 V237.3 H118.9 V240.3 H126.9 V247.5 H134.1 V254 H138.5 V258.4 H142.9 V262 H148.7 V266.4 H152.1 V271 H170.1 V275.9 H177.5 V281.6 H203.9 V293.4 H253.7" fill="none" stroke="#7aa655" stroke-width="0.8"/>
<path d="M50.5 168.4 H51.5 V176 H55.5 V181.8 H55.9 V187.6 H57.3 V193.4 H60.3 V198.5 H68.2 V202.1 H70 V220.2 H74.8 V224.5 H77.7 V229.6 H79.9 V233.2 H80.6 V239 H82 V247.5 H93 V252.1 H99.5 V258 H107.3 V262.8 H111.6 V268.6 H126.9 V280.2 H133.5 V287.1 H137.5 V295.2 H141.5 V307.3 H152.1 V315.7 H177.5 V323.7 H200.8" fill="none" stroke="#c63e50" stroke-width="0.8"/>
<line x1="60" y1="173.1" x2="60" y2="176.1" stroke="#6e5a8a" stroke-width="0.8"/>
<line x1="61.5" y1="173.1" x2="61.5" y2="176.1" stroke="#6e5a8a" stroke-width="0.8"/>
<line x1="62.3" y1="173.1" x2="62.3" y2="176.1" stroke="#6e5a8a" stroke-width="0.8"/>
<line x1="80.8" y1="185.1" x2="80.8" y2="188.1" stroke="#6e5a8a" stroke-width="0.8"/>
<line x1="86.2" y1="185.1" x2="86.2" y2="188.1" stroke="#6e5a8a" stroke-width="0.8"/>
<line x1="97.7" y1="198.5" x2="97.7" y2="201.5" stroke="#6e5a8a" stroke-width="0.8"/>
<line x1="106.2" y1="198.5" x2="106.2" y2="201.5" stroke="#6e5a8a" stroke-width="0.8"/>
<line x1="125.4" y1="208.9" x2="125.4" y2="211.9" stroke="#6e5a8a" stroke-width="0.8"/>
<line x1="126.9" y1="208.9" x2="126.9" y2="211.9" stroke="#6e5a8a" stroke-width="0.8"/>
<line x1="129" y1="208.9" x2="129" y2="211.9" stroke="#6e5a8a" stroke-width="0.8"/>
<line x1="136.5" y1="212.0" x2="136.5" y2="215.0" stroke="#6e5a8a" stroke-width="0.8"/>
<line x1="139" y1="212.0" x2="139" y2="215.0" stroke="#6e5a8a" stroke-width="0.8"/>
<line x1="142" y1="212.0" x2="142" y2="215.0" stroke="#6e5a8a" stroke-width="0.8"/>
<line x1="144" y1="212.0" x2="144" y2="215.0" stroke="#6e5a8a" stroke-width="0.8"/>
<line x1="151" y1="216.8" x2="151" y2="219.8" stroke="#6e5a8a" stroke-width="0.8"/>
<line x1="154" y1="216.8" x2="154" y2="219.8" stroke="#6e5a8a" stroke-width="0.8"/>
<line x1="160" y1="220.0" x2="160" y2="223.0" stroke="#6e5a8a" stroke-width="0.8"/>
<line x1="163" y1="222.1" x2="163" y2="225.1" stroke="#6e5a8a" stroke-width="0.8"/>
<line x1="170.4" y1="227.5" x2="170.4" y2="230.5" stroke="#6e5a8a" stroke-width="0.8"/>
<line x1="173.5" y1="227.5" x2="173.5" y2="230.5" stroke="#6e5a8a" stroke-width="0.8"/>
<line x1="176.5" y1="227.5" x2="176.5" y2="230.5" stroke="#6e5a8a" stroke-width="0.8"/>
<line x1="183" y1="227.5" x2="183" y2="230.5" stroke="#6e5a8a" stroke-width="0.8"/>
<line x1="187" y1="232.9" x2="187" y2="235.9" stroke="#6e5a8a" stroke-width="0.8"/>
<line x1="190" y1="232.9" x2="190" y2="235.9" stroke="#6e5a8a" stroke-width="0.8"/>
<line x1="193" y1="232.9" x2="193" y2="235.9" stroke="#6e5a8a" stroke-width="0.8"/>
<line x1="196" y1="232.9" x2="196" y2="235.9" stroke="#6e5a8a" stroke-width="0.8"/>
<line x1="200" y1="232.9" x2="200" y2="235.9" stroke="#6e5a8a" stroke-width="0.8"/>
<line x1="207.5" y1="254.5" x2="207.5" y2="257.5" stroke="#6e5a8a" stroke-width="0.8"/>
<line x1="216" y1="254.5" x2="216" y2="257.5" stroke="#6e5a8a" stroke-width="0.8"/>
<line x1="221" y1="254.5" x2="221" y2="257.5" stroke="#6e5a8a" stroke-width="0.8"/>
<line x1="227.5" y1="254.5" x2="227.5" y2="257.5" stroke="#6e5a8a" stroke-width="0.8"/>
<line x1="230" y1="254.5" x2="230" y2="257.5" stroke="#6e5a8a" stroke-width="0.8"/>
<line x1="249.5" y1="254.5" x2="249.5" y2="257.5" stroke="#6e5a8a" stroke-width="0.8"/>
<line x1="253" y1="254.5" x2="253" y2="257.5" stroke="#6e5a8a" stroke-width="0.8"/>
<line x1="256" y1="254.5" x2="256" y2="257.5" stroke="#6e5a8a" stroke-width="0.8"/>
<line x1="60" y1="173.8" x2="60" y2="176.8" stroke="#2a7f98" stroke-width="0.8"/>
<line x1="61.5" y1="173.8" x2="61.5" y2="176.8" stroke="#2a7f98" stroke-width="0.8"/>
<line x1="62.3" y1="173.8" x2="62.3" y2="176.8" stroke="#2a7f98" stroke-width="0.8"/>
<line x1="80.8" y1="185.8" x2="80.8" y2="188.8" stroke="#2a7f98" stroke-width="0.8"/>
<line x1="86.2" y1="185.8" x2="86.2" y2="188.8" stroke="#2a7f98" stroke-width="0.8"/>
<line x1="97.7" y1="199.1" x2="97.7" y2="202.1" stroke="#2a7f98" stroke-width="0.8"/>
<line x1="106.2" y1="199.1" x2="106.2" y2="202.1" stroke="#2a7f98" stroke-width="0.8"/>
<line x1="125.4" y1="210.4" x2="125.4" y2="213.4" stroke="#2a7f98" stroke-width="0.8"/>
<line x1="126.9" y1="210.4" x2="126.9" y2="213.4" stroke="#2a7f98" stroke-width="0.8"/>
<line x1="129" y1="210.4" x2="129" y2="213.4" stroke="#2a7f98" stroke-width="0.8"/>
<line x1="136.5" y1="213.5" x2="136.5" y2="216.5" stroke="#2a7f98" stroke-width="0.8"/>
<line x1="139" y1="213.5" x2="139" y2="216.5" stroke="#2a7f98" stroke-width="0.8"/>
<line x1="142" y1="213.5" x2="142" y2="216.5" stroke="#2a7f98" stroke-width="0.8"/>
<line x1="144" y1="213.5" x2="144" y2="216.5" stroke="#2a7f98" stroke-width="0.8"/>
<line x1="151" y1="217.8" x2="151" y2="220.8" stroke="#2a7f98" stroke-width="0.8"/>
<line x1="154" y1="217.8" x2="154" y2="220.8" stroke="#2a7f98" stroke-width="0.8"/>
<line x1="160" y1="221.2" x2="160" y2="224.2" stroke="#2a7f98" stroke-width="0.8"/>
<line x1="163" y1="223.3" x2="163" y2="226.3" stroke="#2a7f98" stroke-width="0.8"/>
<line x1="170.4" y1="228.7" x2="170.4" y2="231.7" stroke="#2a7f98" stroke-width="0.8"/>
<line x1="173.5" y1="228.7" x2="173.5" y2="231.7" stroke="#2a7f98" stroke-width="0.8"/>
<line x1="176.5" y1="228.7" x2="176.5" y2="231.7" stroke="#2a7f98" stroke-width="0.8"/>
<line x1="183" y1="228.7" x2="183" y2="231.7" stroke="#2a7f98" stroke-width="0.8"/>
<line x1="187" y1="235.3" x2="187" y2="238.3" stroke="#2a7f98" stroke-width="0.8"/>
<line x1="190" y1="235.3" x2="190" y2="238.3" stroke="#2a7f98" stroke-width="0.8"/>
<line x1="193" y1="235.3" x2="193" y2="238.3" stroke="#2a7f98" stroke-width="0.8"/>
<line x1="196" y1="235.3" x2="196" y2="238.3" stroke="#2a7f98" stroke-width="0.8"/>
<line x1="200" y1="235.3" x2="200" y2="238.3" stroke="#2a7f98" stroke-width="0.8"/>
<line x1="207.5" y1="257.9" x2="207.5" y2="260.9" stroke="#2a7f98" stroke-width="0.8"/>
<line x1="216" y1="257.9" x2="216" y2="260.9" stroke="#2a7f98" stroke-width="0.8"/>
<line x1="221" y1="257.9" x2="221" y2="260.9" stroke="#2a7f98" stroke-width="0.8"/>
<line x1="227.5" y1="257.9" x2="227.5" y2="260.9" stroke="#2a7f98" stroke-width="0.8"/>
<line x1="230" y1="257.9" x2="230" y2="260.9" stroke="#2a7f98" stroke-width="0.8"/>
<line x1="249.5" y1="257.9" x2="249.5" y2="260.9" stroke="#2a7f98" stroke-width="0.8"/>
<line x1="253" y1="257.9" x2="253" y2="260.9" stroke="#2a7f98" stroke-width="0.8"/>
<line x1="256" y1="257.9" x2="256" y2="260.9" stroke="#2a7f98" stroke-width="0.8"/>
<line x1="56.9" y1="182.5" x2="56.9" y2="185.5" stroke="#5f8245" stroke-width="0.8"/>
<line x1="95" y1="225.9" x2="95" y2="228.9" stroke="#5f8245" stroke-width="0.8"/>
<line x1="100" y1="228.8" x2="100" y2="231.8" stroke="#5f8245" stroke-width="0.8"/>
<line x1="108" y1="232.2" x2="108" y2="235.2" stroke="#5f8245" stroke-width="0.8"/>
<line x1="114" y1="235.8" x2="114" y2="238.8" stroke="#5f8245" stroke-width="0.8"/>
<line x1="126" y1="238.8" x2="126" y2="241.8" stroke="#5f8245" stroke-width="0.8"/>
<line x1="130" y1="246.0" x2="130" y2="249.0" stroke="#5f8245" stroke-width="0.8"/>
<line x1="133.8" y1="246.0" x2="133.8" y2="249.0" stroke="#5f8245" stroke-width="0.8"/>
<line x1="137" y1="252.5" x2="137" y2="255.5" stroke="#5f8245" stroke-width="0.8"/>
<line x1="159" y1="269.5" x2="159" y2="272.5" stroke="#5f8245" stroke-width="0.8"/>
<line x1="172" y1="274.4" x2="172" y2="277.4" stroke="#5f8245" stroke-width="0.8"/>
<line x1="181" y1="280.1" x2="181" y2="283.1" stroke="#5f8245" stroke-width="0.8"/>
<line x1="184" y1="280.1" x2="184" y2="283.1" stroke="#5f8245" stroke-width="0.8"/>
<line x1="188" y1="280.1" x2="188" y2="283.1" stroke="#5f8245" stroke-width="0.8"/>
<line x1="192" y1="280.1" x2="192" y2="283.1" stroke="#5f8245" stroke-width="0.8"/>
<line x1="201" y1="280.1" x2="201" y2="283.1" stroke="#5f8245" stroke-width="0.8"/>
<line x1="207.5" y1="291.9" x2="207.5" y2="294.9" stroke="#5f8245" stroke-width="0.8"/>
<line x1="210" y1="291.9" x2="210" y2="294.9" stroke="#5f8245" stroke-width="0.8"/>
<line x1="221" y1="291.9" x2="221" y2="294.9" stroke="#5f8245" stroke-width="0.8"/>
<line x1="227" y1="291.9" x2="227" y2="294.9" stroke="#5f8245" stroke-width="0.8"/>
<line x1="253.7" y1="291.9" x2="253.7" y2="294.9" stroke="#5f8245" stroke-width="0.8"/>
<line x1="88.5" y1="246.0" x2="88.5" y2="249.0" stroke="#9a3a48" stroke-width="0.8"/>
<line x1="92.3" y1="246.0" x2="92.3" y2="249.0" stroke="#9a3a48" stroke-width="0.8"/>
<line x1="94.6" y1="250.6" x2="94.6" y2="253.6" stroke="#9a3a48" stroke-width="0.8"/>
<line x1="98.5" y1="250.6" x2="98.5" y2="253.6" stroke="#9a3a48" stroke-width="0.8"/>
<line x1="112.3" y1="267.1" x2="112.3" y2="270.1" stroke="#9a3a48" stroke-width="0.8"/>
<line x1="129" y1="278.7" x2="129" y2="281.7" stroke="#9a3a48" stroke-width="0.8"/>
<line x1="131.5" y1="278.7" x2="131.5" y2="281.7" stroke="#9a3a48" stroke-width="0.8"/>
<line x1="134" y1="285.6" x2="134" y2="288.6" stroke="#9a3a48" stroke-width="0.8"/>
<line x1="174" y1="314.2" x2="174" y2="317.2" stroke="#9a3a48" stroke-width="0.8"/>
<line x1="185" y1="322.2" x2="185" y2="325.2" stroke="#9a3a48" stroke-width="0.8"/>
<line x1="188" y1="322.2" x2="188" y2="325.2" stroke="#9a3a48" stroke-width="0.8"/>
<line x1="200.8" y1="322.2" x2="200.8" y2="325.2" stroke="#9a3a48" stroke-width="0.8"/>
<text x="307.2" y="160.2" font-size="10" text-anchor="start" font-weight="bold" fill="#231f20" stroke="#231f20" stroke-width="0.1">D</text>
<text x="327.8" y="162.9" font-size="6.3" text-anchor="start" font-weight="bold" fill="#231f20" stroke="#231f20" stroke-width="0.1" textLength="60" lengthAdjust="spacingAndGlyphs">BCCA validation cohort</text>
<line x1="318.1" y1="350.5" x2="321.5" y2="350.5" stroke="#4d4d4d" stroke-width="0.7"/>
<line x1="318.1" y1="314.06" x2="321.5" y2="314.06" stroke="#4d4d4d" stroke-width="0.7"/>
<line x1="318.1" y1="277.62" x2="321.5" y2="277.62" stroke="#4d4d4d" stroke-width="0.7"/>
<line x1="318.1" y1="241.18" x2="321.5" y2="241.18" stroke="#4d4d4d" stroke-width="0.7"/>
<line x1="318.1" y1="204.74" x2="321.5" y2="204.74" stroke="#4d4d4d" stroke-width="0.7"/>
<line x1="318.1" y1="168.3" x2="321.5" y2="168.3" stroke="#4d4d4d" stroke-width="0.7"/>
<line x1="321.5" y1="168" x2="321.5" y2="350.9" stroke="#4d4d4d" stroke-width="0.9"/>
<line x1="321.5" y1="350.5" x2="527.5" y2="350.5" stroke="#4d4d4d" stroke-width="0.9"/>
<line x1="321.5" y1="349.3" x2="321.5" y2="353.1" stroke="#4d4d4d" stroke-width="0.7"/>
<text x="321.9" y="359.8" font-size="5.6" text-anchor="middle" fill="#3a3a3a" stroke="#3a3a3a" stroke-width="0.08">0</text>
<line x1="353.64" y1="349.3" x2="353.64" y2="353.1" stroke="#4d4d4d" stroke-width="0.7"/>
<text x="354.03999999999996" y="359.8" font-size="5.6" text-anchor="middle" fill="#3a3a3a" stroke="#3a3a3a" stroke-width="0.08">2</text>
<line x1="385.78" y1="349.3" x2="385.78" y2="353.1" stroke="#4d4d4d" stroke-width="0.7"/>
<text x="386.17999999999995" y="359.8" font-size="5.6" text-anchor="middle" fill="#3a3a3a" stroke="#3a3a3a" stroke-width="0.08">4</text>
<line x1="417.92" y1="349.3" x2="417.92" y2="353.1" stroke="#4d4d4d" stroke-width="0.7"/>
<text x="418.32" y="359.8" font-size="5.6" text-anchor="middle" fill="#3a3a3a" stroke="#3a3a3a" stroke-width="0.08">6</text>
<line x1="450.06" y1="349.3" x2="450.06" y2="353.1" stroke="#4d4d4d" stroke-width="0.7"/>
<text x="450.46" y="359.8" font-size="5.6" text-anchor="middle" fill="#3a3a3a" stroke="#3a3a3a" stroke-width="0.08">8</text>
<line x1="482.2" y1="349.3" x2="482.2" y2="353.1" stroke="#4d4d4d" stroke-width="0.7"/>
<text x="482.59999999999997" y="359.8" font-size="5.6" text-anchor="middle" fill="#3a3a3a" stroke="#3a3a3a" stroke-width="0.08">10</text>
<line x1="514.34" y1="349.3" x2="514.34" y2="353.1" stroke="#4d4d4d" stroke-width="0.7"/>
<text x="514.74" y="359.8" font-size="5.6" text-anchor="middle" fill="#3a3a3a" stroke="#3a3a3a" stroke-width="0.08">12</text>
<text x="419.3" y="368.4" font-size="5.6" text-anchor="middle" fill="#231f20" stroke="#231f20" stroke-width="0.08" textLength="31.2" lengthAdjust="spacingAndGlyphs">Time (years)</text>
<line x1="409.5" y1="171.0" x2="421.4" y2="171.0" stroke="#9a9a9a" stroke-width="1.0"/>
<text x="425.8" y="173.0" font-size="5.6" text-anchor="start" fill="#231f20" stroke="#231f20" stroke-width="0.08" textLength="67.3" lengthAdjust="spacingAndGlyphs">Low-risk m7-FLIPI (29/83)</text>
<line x1="409.5" y1="178.0" x2="421.4" y2="178.0" stroke="#cf7880" stroke-width="1.0"/>
<text x="425.8" y="180.0" font-size="5.6" text-anchor="start" fill="#231f20" stroke="#231f20" stroke-width="0.08" textLength="68.6" lengthAdjust="spacingAndGlyphs">High-risk m7-FLIPI (19/24)</text>
<line x1="409.5" y1="185.1" x2="421.4" y2="185.1" stroke="#5a9eb0" stroke-width="1.0"/>
<text x="425.8" y="187.1" font-size="5.6" text-anchor="start" fill="#231f20" stroke="#231f20" stroke-width="0.08" textLength="91.5" lengthAdjust="spacingAndGlyphs">Low/intermediate-risk FLIPI (18/54)</text>
<line x1="409.5" y1="192.1" x2="421.4" y2="192.1" stroke="#9fa88a" stroke-width="1.0"/>
<text x="425.8" y="194.1" font-size="5.6" text-anchor="start" fill="#231f20" stroke="#231f20" stroke-width="0.08" textLength="57.9" lengthAdjust="spacingAndGlyphs">High-risk FLIPI (30/53)</text>
<text x="425.8" y="205.0" font-size="5.6" text-anchor="start" fill="#231f20" stroke="#231f20" stroke-width="0.08" textLength="47.1" lengthAdjust="spacingAndGlyphs">m7-FLIPI p&lt;0·0001</text>
<text x="425.8" y="212.6" font-size="5.6" text-anchor="start" fill="#231f20" stroke="#231f20" stroke-width="0.08" textLength="36.3" lengthAdjust="spacingAndGlyphs">FLIPI p=0·0075</text>
<text x="273.0" y="379.6" font-size="5.6" text-anchor="start" font-weight="bold" fill="#231f20" stroke="#231f20" stroke-width="0.1" textLength="38" lengthAdjust="spacingAndGlyphs">Patients at risk</text>
<text x="311.0" y="388.0" font-size="5.6" text-anchor="end" fill="#231f20" stroke="#231f20" stroke-width="0.08">m7 high</text>
<text x="325.3" y="388.0" font-size="5.6" text-anchor="end" fill="#231f20" stroke="#231f20" stroke-width="0.08">24</text>
<text x="357.44" y="388.0" font-size="5.6" text-anchor="end" fill="#231f20" stroke="#231f20" stroke-width="0.08">11</text>
<text x="387.47999999999996" y="388.0" font-size="5.6" text-anchor="middle" fill="#231f20" stroke="#231f20" stroke-width="0.08">7</text>
<text x="419.62" y="388.0" font-size="5.6" text-anchor="middle" fill="#231f20" stroke="#231f20" stroke-width="0.08">5</text>
<text x="451.76" y="388.0" font-size="5.6" text-anchor="middle" fill="#231f20" stroke="#231f20" stroke-width="0.08">1</text>
<line x1="482.59999999999997" y1="386.3" x2="484.4" y2="386.3" stroke="#8a8a8a" stroke-width="0.6"/>
<line x1="514.74" y1="386.3" x2="516.5400000000001" y2="386.3" stroke="#8a8a8a" stroke-width="0.6"/>
<text x="311.0" y="395.6" font-size="5.6" text-anchor="end" fill="#231f20" stroke="#231f20" stroke-width="0.08">m7 low</text>
<text x="325.3" y="395.6" font-size="5.6" text-anchor="end" fill="#231f20" stroke="#231f20" stroke-width="0.08">83</text>
<text x="357.44" y="395.6" font-size="5.6" text-anchor="end" fill="#231f20" stroke="#231f20" stroke-width="0.08">68</text>
<text x="389.58" y="395.6" font-size="5.6" text-anchor="end" fill="#231f20" stroke="#231f20" stroke-width="0.08">55</text>
<text x="421.72" y="395.6" font-size="5.6" text-anchor="end" fill="#231f20" stroke="#231f20" stroke-width="0.08">34</text>
<text x="451.76" y="395.6" font-size="5.6" text-anchor="middle" fill="#231f20" stroke="#231f20" stroke-width="0.08">7</text>
<line x1="482.59999999999997" y1="393.90000000000003" x2="484.4" y2="393.90000000000003" stroke="#8a8a8a" stroke-width="0.6"/>
<line x1="514.74" y1="393.90000000000003" x2="516.5400000000001" y2="393.90000000000003" stroke="#8a8a8a" stroke-width="0.6"/>
<text x="311.0" y="403.1" font-size="5.6" text-anchor="end" fill="#231f20" stroke="#231f20" stroke-width="0.08">FLIPI high</text>
<text x="325.3" y="403.1" font-size="5.6" text-anchor="end" fill="#231f20" stroke="#231f20" stroke-width="0.08">53</text>
<text x="357.44" y="403.1" font-size="5.6" text-anchor="end" fill="#231f20" stroke="#231f20" stroke-width="0.08">33</text>
<text x="389.58" y="403.1" font-size="5.6" text-anchor="end" fill="#231f20" stroke="#231f20" stroke-width="0.08">24</text>
<text x="421.72" y="403.1" font-size="5.6" text-anchor="end" fill="#231f20" stroke="#231f20" stroke-width="0.08">15</text>
<text x="451.76" y="403.1" font-size="5.6" text-anchor="middle" fill="#231f20" stroke="#231f20" stroke-width="0.08">2</text>
<line x1="482.59999999999997" y1="401.40000000000003" x2="484.4" y2="401.40000000000003" stroke="#8a8a8a" stroke-width="0.6"/>
<line x1="514.74" y1="401.40000000000003" x2="516.5400000000001" y2="401.40000000000003" stroke="#8a8a8a" stroke-width="0.6"/>
<text x="311.0" y="410.6" font-size="5.6" text-anchor="end" fill="#231f20" stroke="#231f20" stroke-width="0.08">FLIPI low/int</text>
<text x="325.3" y="410.6" font-size="5.6" text-anchor="end" fill="#231f20" stroke="#231f20" stroke-width="0.08">54</text>
<text x="357.44" y="410.6" font-size="5.6" text-anchor="end" fill="#231f20" stroke="#231f20" stroke-width="0.08">46</text>
<text x="389.58" y="410.6" font-size="5.6" text-anchor="end" fill="#231f20" stroke="#231f20" stroke-width="0.08">38</text>
<text x="421.72" y="410.6" font-size="5.6" text-anchor="end" fill="#231f20" stroke="#231f20" stroke-width="0.08">24</text>
<text x="451.76" y="410.6" font-size="5.6" text-anchor="middle" fill="#231f20" stroke="#231f20" stroke-width="0.08">6</text>
<line x1="482.59999999999997" y1="408.90000000000003" x2="484.4" y2="408.90000000000003" stroke="#8a8a8a" stroke-width="0.6"/>
<line x1="514.74" y1="408.90000000000003" x2="516.5400000000001" y2="408.90000000000003" stroke="#8a8a8a" stroke-width="0.6"/>
<path d="M321.5 168.4 H325.4 V171.5 H327 V174.5 H329.4 V177.6 H331.4 V181 H333.6 V183.8 H335.4 V185.6 H338.7 V189.2 H341.2 V192.2 H344.8 V194.6 H346 V196.5 H349 V198.9 H351.2 V201.3 H355.7 V203.5 H363.5 V204.9 H366.6 V206.7 H369.6 V209.8 H370.8 V213.4 H372.9 V213.8 H384.4 V220.2 H394 V225 H413.3 V228.8 H421 V234.2 H439.2 V240.4 H467.1" fill="none" stroke="#8a6ea8" stroke-width="0.8"/>
<path d="M321.5 168.4 H326.5 V171.8 H328 V174.8 H329.4 V177.6 H331.4 V181 H333.6 V183.8 H335.4 V185.6 H345.4 V188.6 H348.4 V191 H351.2 V195 H362.3 V197.7 H366.6 V200.1 H369 V203.7 H371.4 V208 H378.7 V210.6 H383.5 V215.4 H385 V219.2 H394 V223 H413.3 V227.9 H421 V234.2 H467.1" fill="none" stroke="#2d9fc0" stroke-width="0.8"/>
<path d="M321.5 168.4 H322.5 V175 H324.2 V179.5 H326.7 V185 H329 V190.4 H331.5 V195.8 H333.9 V201.3 H336.9 V206.1 H338.7 V211 H340.6 V215 H343.1 V220.9 H344.5 V226.7 H348.9 V228.2 H351.8 V231.8 H352.5 V236.9 H354.7 V241.2 H356.9 V244.1 H365.6 V247 H370.7 V249.2 H372.8 V251.4 H376.5 V253.6 H383.7 V257.2 H392.4 V262.3 H393.9 V265.4 H423.1 V271.8 H439.2 V283.1 H465.6" fill="none" stroke="#7aa655" stroke-width="0.8"/>
<path d="M321.5 168.4 H322.4 V179.5 H324.2 V184.4 H326 V190.4 H327.3 V197 H329 V201.3 H330.3 V207.3 H331.5 V215.8 H333 V221.6 H335.1 V228.9 H337.5 V236.5 H344 V244 H349.5 V252 H351.5 V260 H353 V268 H354.2 V275 H365 V281.7 H377.1 V289.8 H383.9 V297.1 H396.1 V304.6 H423.1 V313.2 H465.6" fill="none" stroke="#c63e50" stroke-width="0.8"/>
<line x1="395" y1="221.5" x2="395" y2="224.5" stroke="#2a7f98" stroke-width="0.8"/>
<line x1="398" y1="221.5" x2="398" y2="224.5" stroke="#2a7f98" stroke-width="0.8"/>
<line x1="401" y1="221.5" x2="401" y2="224.5" stroke="#2a7f98" stroke-width="0.8"/>
<line x1="405" y1="221.5" x2="405" y2="224.5" stroke="#2a7f98" stroke-width="0.8"/>
<line x1="413" y1="221.5" x2="413" y2="224.5" stroke="#2a7f98" stroke-width="0.8"/>
<line x1="424" y1="232.7" x2="424" y2="235.7" stroke="#2a7f98" stroke-width="0.8"/>
<line x1="427" y1="232.7" x2="427" y2="235.7" stroke="#2a7f98" stroke-width="0.8"/>
<line x1="431" y1="232.7" x2="431" y2="235.7" stroke="#2a7f98" stroke-width="0.8"/>
<line x1="436" y1="232.7" x2="436" y2="235.7" stroke="#2a7f98" stroke-width="0.8"/>
<line x1="440" y1="232.7" x2="440" y2="235.7" stroke="#2a7f98" stroke-width="0.8"/>
<line x1="444" y1="232.7" x2="444" y2="235.7" stroke="#2a7f98" stroke-width="0.8"/>
<line x1="448" y1="232.7" x2="448" y2="235.7" stroke="#2a7f98" stroke-width="0.8"/>
<line x1="452" y1="232.7" x2="452" y2="235.7" stroke="#2a7f98" stroke-width="0.8"/>
<line x1="467.1" y1="232.7" x2="467.1" y2="235.7" stroke="#2a7f98" stroke-width="0.8"/>
<line x1="421.5" y1="232.7" x2="421.5" y2="235.7" stroke="#6e5a8a" stroke-width="0.8"/>
<line x1="425" y1="232.7" x2="425" y2="235.7" stroke="#6e5a8a" stroke-width="0.8"/>
<line x1="430" y1="232.7" x2="430" y2="235.7" stroke="#6e5a8a" stroke-width="0.8"/>
<line x1="436" y1="232.7" x2="436" y2="235.7" stroke="#6e5a8a" stroke-width="0.8"/>
<line x1="440" y1="238.9" x2="440" y2="241.9" stroke="#6e5a8a" stroke-width="0.8"/>
<line x1="445" y1="238.9" x2="445" y2="241.9" stroke="#6e5a8a" stroke-width="0.8"/>
<line x1="452" y1="238.9" x2="452" y2="241.9" stroke="#6e5a8a" stroke-width="0.8"/>
<line x1="467.1" y1="238.9" x2="467.1" y2="241.9" stroke="#6e5a8a" stroke-width="0.8"/>
<line x1="352" y1="230.3" x2="352" y2="233.3" stroke="#5f8245" stroke-width="0.8"/>
<line x1="380" y1="252.1" x2="380" y2="255.1" stroke="#5f8245" stroke-width="0.8"/>
<line x1="383" y1="252.1" x2="383" y2="255.1" stroke="#5f8245" stroke-width="0.8"/>
<line x1="388" y1="255.7" x2="388" y2="258.7" stroke="#5f8245" stroke-width="0.8"/>
<line x1="403" y1="263.9" x2="403" y2="266.9" stroke="#5f8245" stroke-width="0.8"/>
<line x1="406" y1="263.9" x2="406" y2="266.9" stroke="#5f8245" stroke-width="0.8"/>
<line x1="409" y1="263.9" x2="409" y2="266.9" stroke="#5f8245" stroke-width="0.8"/>
<line x1="423" y1="263.9" x2="423" y2="266.9" stroke="#5f8245" stroke-width="0.8"/>
<line x1="426" y1="270.3" x2="426" y2="273.3" stroke="#5f8245" stroke-width="0.8"/>
<line x1="430" y1="270.3" x2="430" y2="273.3" stroke="#5f8245" stroke-width="0.8"/>
<line x1="441" y1="281.6" x2="441" y2="284.6" stroke="#5f8245" stroke-width="0.8"/>
<line x1="444" y1="281.6" x2="444" y2="284.6" stroke="#5f8245" stroke-width="0.8"/>
<line x1="448" y1="281.6" x2="448" y2="284.6" stroke="#5f8245" stroke-width="0.8"/>
<line x1="455" y1="281.6" x2="455" y2="284.6" stroke="#5f8245" stroke-width="0.8"/>
<line x1="465.6" y1="281.6" x2="465.6" y2="284.6" stroke="#5f8245" stroke-width="0.8"/>
<line x1="405" y1="303.1" x2="405" y2="306.1" stroke="#9a3a48" stroke-width="0.8"/>
<line x1="427" y1="311.7" x2="427" y2="314.7" stroke="#9a3a48" stroke-width="0.8"/>
<line x1="437" y1="311.7" x2="437" y2="314.7" stroke="#9a3a48" stroke-width="0.8"/>
<line x1="465.6" y1="311.7" x2="465.6" y2="314.7" stroke="#9a3a48" stroke-width="0.8"/>
</svg></body></html>
